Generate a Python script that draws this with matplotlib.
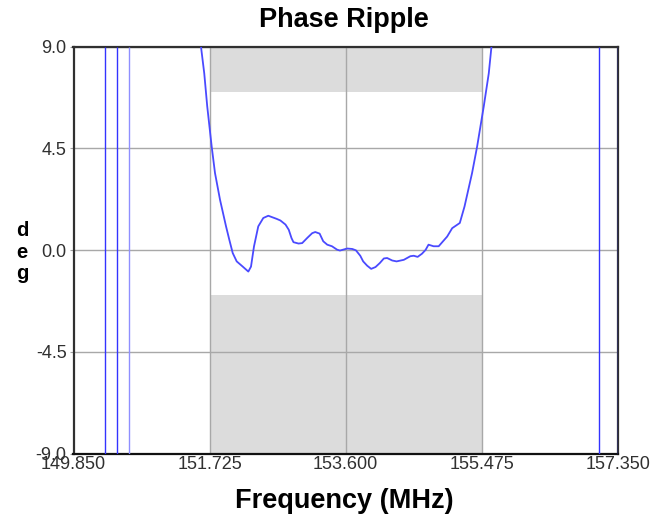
import matplotlib
matplotlib.use("Agg")
import matplotlib.pyplot as plt

plt.rcParams['font.family'] = ['Liberation Sans', 'DejaVu Sans']

# Data
freq = [151.57, 151.606, 151.651, 151.692, 151.753, 151.799, 151.868, 151.951, 151.996, 152.043,
        152.098, 152.181, 152.258, 152.295, 152.336, 152.395, 152.464, 152.533, 152.65, 152.70,
        152.77, 152.815, 152.853, 152.88, 152.95, 153.00, 153.07, 153.138, 153.18, 153.24,
        153.29, 153.345, 153.41, 153.48, 153.52, 153.62, 153.69, 153.74, 153.80, 153.84,
        153.895, 153.95, 154.01, 154.07, 154.125, 154.17, 154.24, 154.30, 154.40, 154.49,
        154.537, 154.59, 154.65, 154.70, 154.74, 154.81, 154.88, 154.997, 155.066, 155.171,
        155.236, 155.34, 155.41, 155.501, 155.570, 155.607, 155.64]
phase = [10.5, 9.0, 7.82, 6.36, 4.59, 3.41, 2.23, 1.05, 0.46, -0.13,
         -0.50, -0.73, -0.95, -0.73, 0.16, 1.05, 1.42, 1.52, 1.38, 1.31,
         1.13, 0.90, 0.53, 0.35, 0.29, 0.31, 0.54, 0.75, 0.80, 0.73,
         0.39, 0.24, 0.17, 0.02, -0.02, 0.07, 0.05, -0.01, -0.25, -0.50,
         -0.69, -0.83, -0.75, -0.57, -0.37, -0.35, -0.46, -0.50, -0.43, -0.27,
         -0.25, -0.30, -0.16, 0.01, 0.24, 0.17, 0.17, 0.60, 0.97, 1.20,
         1.93, 3.41, 4.59, 6.36, 7.82, 9.0, 10.2]
wrap_freqs = [150.277, 150.446, 157.088, 157.345]
wrap_freqs_light = [150.614]

x_ticks = [149.850, 151.725, 153.600, 155.475, 157.350]
x_tick_labels = ["149.850", "151.725", "153.600", "155.475", "157.350"]
y_ticks = [-9.0, -4.5, 0.0, 4.5, 9.0]
y_tick_labels = ["-9.0", "-4.5", "0.0", "4.5", "9.0"]

mask_x = [151.725, 155.475]
mask_upper = [7.0, 9.0]
mask_lower = [-9.0, -2.0]

fig = plt.figure(figsize=(6.61, 5.18), dpi=100)
ax = fig.add_axes([73.5 / 661, 1 - 453.5 / 518, (618 - 73.5) / 661, (453.5 - 46.7) / 518])

ax.set_xlim(149.85, 157.35)
ax.set_ylim(-9, 9)

ax.fill_between(mask_x, mask_upper[0], mask_upper[1], color='#dcdcdc', lw=0, zorder=0)
ax.fill_between(mask_x, mask_lower[0], mask_lower[1], color='#dcdcdc', lw=0, zorder=0)

ax.set_xticks(x_ticks)
ax.set_xticklabels(x_tick_labels)
ax.set_yticks(y_ticks)
ax.set_yticklabels(y_tick_labels)
ax.grid(True, color='#a8a8a8', lw=1, zorder=1)
ax.set_axisbelow(True)

ax.vlines(wrap_freqs, -9, 9, color='#3333ff', lw=1.0, zorder=3)
ax.vlines(wrap_freqs_light, -9, 9, color='#8f8fff', lw=1.0, zorder=3)
ax.plot(freq, phase, color='#4a4aff', lw=1.3, zorder=4, clip_on=True)

for s in ax.spines.values():
    s.set_color('#303030')
    s.set_linewidth(1.6)
ax.spines['bottom'].set_color('#111111')

ax.tick_params(axis='y', length=3, color='#a0a0a0', labelsize=13, labelcolor='#303030', pad=2)
ax.tick_params(axis='x', length=0, labelsize=13, labelcolor='#303030', pad=2)

fig.text(344 / 661, 1 - 27 / 518, "Phase Ripple", fontsize=19.5, fontweight='bold',
         ha='center', va='baseline')
fig.text(344 / 661, 1 - 508 / 518, "Frequency (MHz)", fontsize=19.5, fontweight='bold',
         ha='center', va='baseline')
fig.text(22 / 661, 1 - 252 / 518, "d\ne\ng", fontsize=14.5, fontweight='bold',
         ha='center', va='center', linespacing=1.15)

fig.savefig("out.png", dpi=100)
